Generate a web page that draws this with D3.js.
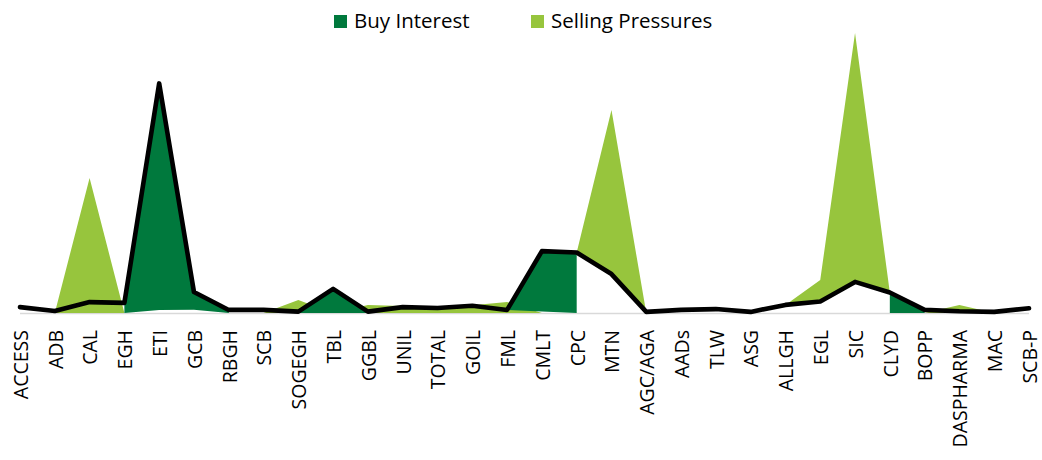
<!DOCTYPE html>
<html>
<head>
<meta charset="utf-8">
<script src="https://cdn.jsdelivr.net/npm/d3@7"></script>
<style>
  body { margin: 0; background: #fff; }
  text { font-family: "Open Sans", sans-serif; fill: #000; }
</style>
</head>
<body>
<svg id="chart" width="1042" height="460"></svg>
<script>
// tickers on the x axis
const categories = ['ACCESS', 'ADB', 'CAL', 'EGH', 'ETI', 'GCB', 'RBGH', 'SCB', 'SOGEGH', 'TBL',
  'GGBL', 'UNIL', 'TOTAL', 'GOIL', 'FML', 'CMLT', 'CPC', 'MTN', 'AGC/AGA', 'AADs',
  'TLW', 'ASG', 'ALLGH', 'EGL', 'SIC', 'CLYD', 'BOPP', 'DASPHARMA', 'MAC', 'SCB-P']

// black line (no legend entry)
const trendLine = [2.1, 0.7, 3.9, 3.6, 82.0, 7.5, 1.1, 1.1, 0.5, 8.6,
  0.5, 2.1, 1.8, 2.6, 1.1, 22.1, 21.6, 13.9, 0.4, 1.1,
  1.4, 0.4, 2.9, 4.1, 11.1, 7.3, 1.1, 0.6, 0.4, 1.7]

// Buy Interest area, lower and upper edge (null = no area)
const buyLow = [null, null, null, 0, 1.1, 1.2, 0, null, 0, 0,
  0, null, null, null, 1.1, 0.5, 0, null, null, null,
  null, null, null, null, null, 0, 0, null, null, null]
const buyHigh = [null, null, null, 3.6, 82.0, 7.5, 1.1, null, 0.5, 8.6,
  0.5, null, null, null, 1.1, 22.1, 21.6, null, null, null,
  null, null, null, null, null, 7.3, 1.1, null, null, null]

// Selling Pressures area, lower and upper edge
const sellLow = [null, 0, 0, 0, null, null, null, 0, 0, 0,
  0, 0, 0, 0, 0, 0, 21.6, 13.9, 0, null,
  null, null, 2.9, 4.1, 11.1, 7.3, 0, 0, 0, null]
const sellHigh = [null, 0, 48.2, 0, null, null, null, 0, 4.6, 0,
  2.9, 2.5, 2.2, 2.8, 3.9, 0, 21.6, 72.5, 0, null,
  null, null, 2.9, 11.8, 100, 7.3, 0, 2.9, 0, null]

const seriesNames = ['Buy Interest', 'Selling Pressures']
const seriesColors = ['#00793D', '#97C53D']

const width = 1042
const height = 460
const marginLeft = 20
const marginRight = 13
const baseY = 313
const topY = 33

const svg = d3.select('#chart')

svg.append('rect')
    .attr('width', width)
    .attr('height', height)
    .attr('fill', '#fff')

const xScale = d3.scalePoint()
    .domain(categories)
    .range([marginLeft, width - marginRight])

const yScale = d3.scaleLinear()
    .domain([0, 100])
    .range([baseY, topY])

const toRows = (low, high) => categories.map((c, i) => ({ cat: c, lo: low[i], hi: high[i] }))

const areaGen = d3.area()
    .defined(d => d.hi != null)
    .x(d => xScale(d.cat))
    .y0(d => yScale(d.lo))
    .y1(d => yScale(d.hi))

// axis line
svg.append('line')
    .attr('x1', xScale(categories[0]))
    .attr('x2', xScale(categories[categories.length - 1]))
    .attr('y1', yScale(0) + 0.5)
    .attr('y2', yScale(0) + 0.5)
    .attr('stroke', '#d9d9d9')
    .attr('stroke-width', 1.5)

svg.append('path')
    .datum(toRows(sellLow, sellHigh))
    .attr('d', areaGen)
    .attr('fill', seriesColors[1])

svg.append('path')
    .datum(toRows(buyLow, buyHigh))
    .attr('d', areaGen)
    .attr('fill', seriesColors[0])

const lineGen = d3.line()
    .x((d, i) => xScale(categories[i]))
    .y(d => yScale(d))

svg.append('path')
    .datum(trendLine)
    .attr('d', lineGen)
    .attr('fill', 'none')
    .attr('stroke', '#000')
    .attr('stroke-width', 4.6)
    .attr('stroke-linejoin', 'round')
    .attr('stroke-linecap', 'round')

// category labels, rotated
svg.append('g')
  .selectAll('text')
  .data(categories)
  .join('text')
    .attr('transform', d => `translate(${xScale(d) + 1},${baseY + 17}) rotate(-90)`)
    .attr('dy', '0.35em')
    .attr('text-anchor', 'end')
    .attr('font-size', 19.5)
    .text(d => d)

// legend
const legendX = [334, 531]
const legend = svg.append('g')
  .selectAll('g')
  .data(seriesNames)
  .join('g')
    .attr('transform', (d, i) => `translate(${legendX[i]},15)`)

legend.append('rect')
    .attr('width', 13)
    .attr('height', 13)
    .attr('fill', (d, i) => seriesColors[i])

legend.append('text')
    .attr('x', 20)
    .attr('y', 12.5)
    .attr('font-size', 20.5)
    .text(d => d)
</script>
</body>
</html>
